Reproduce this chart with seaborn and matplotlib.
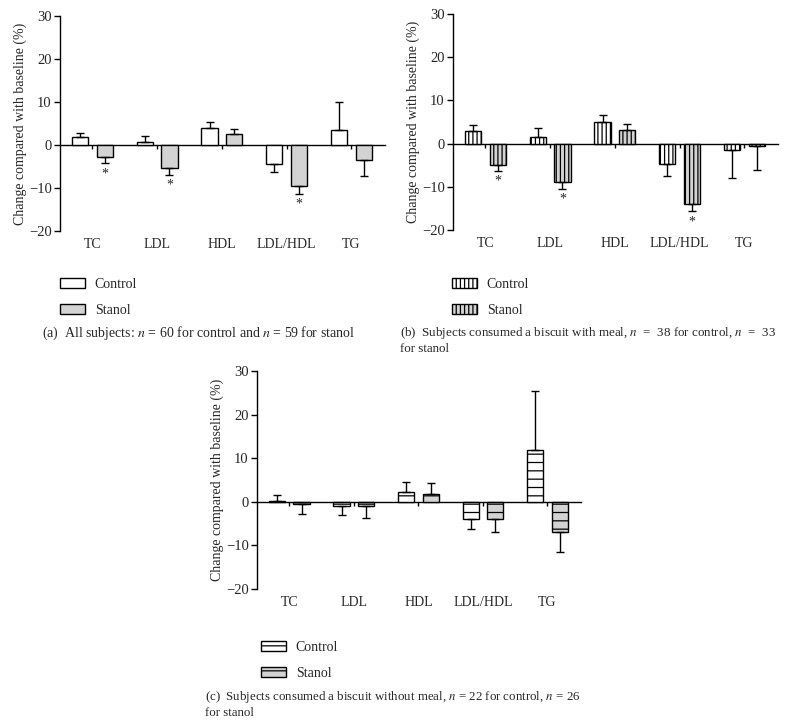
import matplotlib
matplotlib.use("Agg")
import matplotlib.pyplot as plt
from matplotlib.patches import Patch
import numpy as np
import pandas as pd
import seaborn as sns

# ---------------- datos ----------------
categorias = ["TC", "LDL", "HDL", "LDL/HDL", "TG"]
grupos = ["Control", "Stanol"]

# (a) todos los sujetos
a_control = [1.9, 0.6, 4.0, -4.4, 3.4]
a_control_err = [0.9, 1.5, 1.3, 1.9, 6.5]
a_stanol = [-2.9, -5.3, 2.5, -9.5, -3.4]
a_stanol_err = [1.4, 1.6, 1.3, 1.8, 3.7]
a_signif = [True, True, False, True, False]

# (b) galleta con comida
b_control = [2.9, 1.6, 5.0, -4.8, -1.4]
b_control_err = [1.3, 1.9, 1.6, 2.6, 6.6]
b_stanol = [-4.9, -8.9, 3.2, -13.9, -0.6]
b_stanol_err = [1.4, 1.5, 1.4, 1.8, 5.5]
b_signif = [True, True, False, True, False]

# (c) galleta sin comida
c_control = [0.2, -1.0, 2.3, -3.9, 11.8]
c_control_err = [1.3, 2.1, 2.2, 2.4, 13.6]
c_stanol = [-0.4, -0.9, 1.8, -4.0, -7.0]
c_stanol_err = [2.4, 2.8, 2.5, 3.0, 4.4]
c_signif = [False, False, False, False, False]

captions = {
    "a": ["(a)  All subjects: $n$ = 60 for control and $n$ = 59 for stanol"],
    "b": ["(b)  Subjects consumed a biscuit with meal, $n$  =  38 for control, $n$  =  33",
          "for stanol"],
    "c": ["(c)  Subjects consumed a biscuit without meal, $n$ = 22 for control, $n$ = 26",
          "for stanol"],
}

sns.set_theme(style="ticks")
plt.rcParams["font.family"] = ["Liberation Serif", "DejaVu Serif"]
plt.rcParams["mathtext.fontset"] = "stix"
plt.rcParams["hatch.linewidth"] = 0.9

W, H = 786, 724
fig = plt.figure(figsize=(W / 100, H / 100), dpi=100)

GRIS = "#d3d3d3"


def px_axes(left, top, right, bottom):
    return fig.add_axes([left / W, 1 - bottom / H, (right - left) / W, (bottom - top) / H])


def panel(ax, control, control_err, stanol, stanol_err, signif, hatch):
    df = pd.DataFrame({
        "cat": categorias * 2,
        "grupo": [grupos[0]] * 5 + [grupos[1]] * 5,
        "valor": control + stanol,
    })
    sns.barplot(data=df, x="cat", y="valor", hue="grupo", order=categorias,
                hue_order=grupos, palette=["white", GRIS], saturation=1,
                edgecolor="black", linewidth=1, width=0.76, gap=0.34,
                errorbar=None, legend=False, ax=ax)

    errs = [control_err, stanol_err]
    vals = [control, stanol]
    barras = list(ax.containers)
    for k, cont in enumerate(barras):
        xs = []
        for bar in cont:
            if hatch:
                bar.set_hatch(hatch)
                if k == 1 and hasattr(bar, "set_hatchcolor"):
                    bar.set_hatchcolor("#555555")
            xs.append(bar.get_x() + bar.get_width() / 2)
        xs = np.array(xs)
        v = np.array(vals[k])
        e = np.array(errs[k])
        lo = np.where(v < 0, e, 0)
        hi = np.where(v >= 0, e, 0)
        ax.errorbar(xs, v, yerr=[lo, hi], fmt="none", ecolor="black",
                    elinewidth=1, capsize=3, capthick=1, zorder=3)
        if k == 1:
            for x, val, err, s in zip(xs, v, e, signif):
                if s:
                    ax.annotate("*", (x, val - err), xytext=(0, -3),
                                textcoords="offset points", ha="center",
                                va="top", fontsize=10)

    ax.set_xlim(-0.5, 4.52)
    ax.set_ylim(-20, 30)
    ax.set_yticks([-20, -10, 0, 10, 20, 30])
    ax.set_yticklabels(["\u221220", "\u221210", "0", "10", "20", "30"])
    ax.set_xlabel("")
    ax.set_ylabel("Change compared with baseline (%)", fontsize=10, labelpad=1.5)
    ax.tick_params(axis="y", length=4, width=1, pad=2, labelsize=10.5, color="black")
    ax.tick_params(axis="x", length=0, pad=5, labelsize=10)
    for s in ["top", "right", "bottom"]:
        ax.spines[s].set_visible(False)
    ax.spines["left"].set_color("black")
    ax.spines["left"].set_linewidth(1)

    # linea del cero con marcas en las categorias
    sec = ax.secondary_xaxis(20 / 50)
    sec.set_xticks(range(len(categorias)))
    sec.set_xticklabels([])
    sec.tick_params(length=3, width=1, color="black", direction="out")
    sec.spines["bottom"].set_color("black")
    sec.spines["bottom"].set_linewidth(1)
    for s in ["top", "left", "right"]:
        sec.spines[s].set_visible(False)


def leyenda(left, top, hatch):
    handles = [Patch(facecolor="white", edgecolor="black", hatch=hatch, linewidth=1),
               Patch(facecolor=GRIS, edgecolor="black", hatch=hatch, linewidth=1)]
    fig.legend(handles, grupos, loc="upper left",
               bbox_to_anchor=(left / W, 1 - top / H), bbox_transform=fig.transFigure,
               frameon=False, fontsize=10, handlelength=1.8, handleheight=0.75,
               handletextpad=0.7, labelspacing=0.95, borderpad=0, borderaxespad=0)


def leyenda_texto(x, y, lineas, size):
    for i, t in enumerate(lineas):
        fig.text(x / W, 1 - (y + i * 16) / H, t, ha="left", va="center", fontsize=size)


ax_a = px_axes(60, 16, 385, 231)
panel(ax_a, a_control, a_control_err, a_stanol, a_stanol_err, a_signif, None)
ax_b = px_axes(453, 14, 778, 230)
panel(ax_b, b_control, b_control_err, b_stanol, b_stanol_err, b_signif, "||||")
ax_c = px_axes(257, 371, 581, 589)
panel(ax_c, c_control, c_control_err, c_stanol, c_stanol_err, c_signif, "--")

leyenda(60, 278, None)
leyenda(452, 278, "||||")
leyenda(261, 641, "--")

leyenda_texto(42, 333, captions["a"], 10)
leyenda_texto(400, 333, captions["b"], 9.4)
leyenda_texto(205, 697, captions["c"], 9.3)

fig.savefig("out.png", dpi=100)
